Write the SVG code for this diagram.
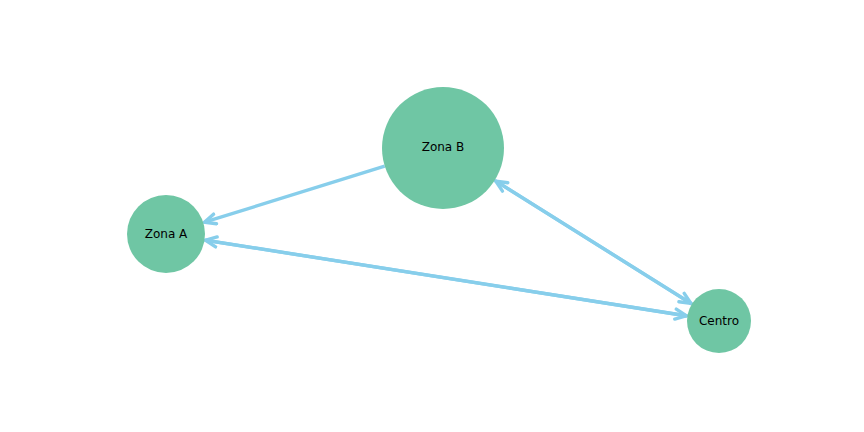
<svg xmlns="http://www.w3.org/2000/svg" width="864" height="432" viewBox="0 0 864 432">
<style>
.node{fill:#6fc6a4}
.lbl{font-family:"DejaVu Sans",sans-serif;font-size:12px;fill:#000;text-anchor:middle;dominant-baseline:central}
.edge{stroke:#87ceeb;stroke-width:3.4;fill:none;marker-end:url(#arr)}
</style>
<defs>
<marker id="arr" viewBox="-13 -7 15 14" markerWidth="15" markerHeight="14" refX="0" refY="0" orient="auto" markerUnits="userSpaceOnUse">
<path d="M-11,-5 L0,0 L-11,5" fill="none" stroke="#87ceeb" stroke-width="3.4" stroke-linecap="round" stroke-linejoin="miter"/>
</marker>
</defs>
<rect width="864" height="432" fill="#fff"/>
<g id="edges">
<line class="edge" x1="384.7" y1="166.1" x2="204.5" y2="222.2"/>
<line class="edge" x1="687.4" y1="316.0" x2="205.5" y2="240.2"/>
<line class="edge" x1="204.5" y1="240.1" x2="686.4" y2="315.8"/>
<line class="edge" x1="691.9" y1="304.0" x2="495.8" y2="181.1"/>
<line class="edge" x1="494.7" y1="180.4" x2="690.9" y2="303.4"/>
</g>
<g id="zona-b"><circle class="node" cx="443" cy="148" r="61"/><text class="lbl" x="443" y="147">Zona B</text></g>
<g id="zona-a"><circle class="node" cx="166" cy="234" r="39"/><text class="lbl" x="166" y="234">Zona A</text></g>
<g id="centro"><circle class="node" cx="719" cy="321" r="32"/><text class="lbl" x="719" y="321">Centro</text></g>
</svg>
